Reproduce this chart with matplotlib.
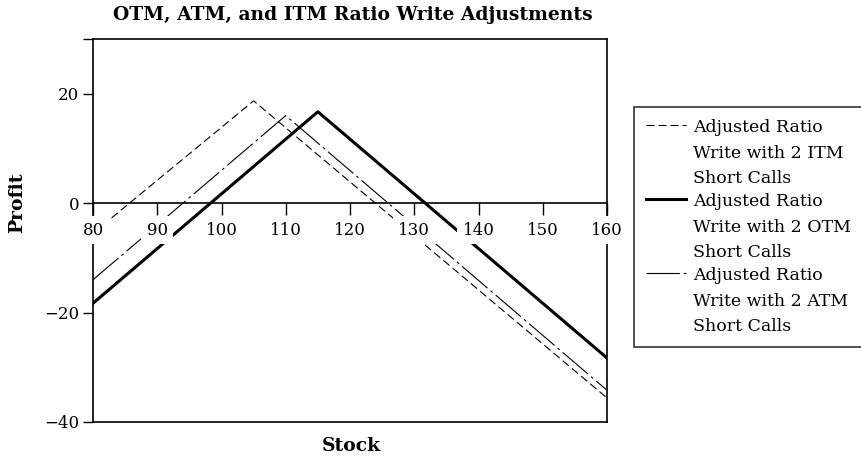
import numpy as np
import matplotlib
matplotlib.use("Agg")
import matplotlib.pyplot as plt
from matplotlib.legend_handler import HandlerLine2D

# payoff vertices (stock price, profit)
itm_stock = [80, 105, 160]
itm_profit = [-5.5, 18.7, -35.6]
otm_stock = [80, 115, 160]
otm_profit = [-18.3, 16.7, -28.3]
atm_stock = [80, 110, 160]
atm_profit = [-14.0, 16.0, -34.2]

labels = ["Adjusted Ratio\nWrite with 2 ITM\nShort Calls",
          "Adjusted Ratio\nWrite with 2 OTM\nShort Calls",
          "Adjusted Ratio\nWrite with 2 ATM\nShort Calls"]

xticks = [80, 90, 100, 110, 120, 130, 140, 150, 160]
yticks = [-40, -20, 0, 20, 30]
ytick_labels = ["\u221240", "\u221220", "0", "20", ""]

FS = 12.5
LINESP = 1.65

plt.rcParams["font.family"] = ["DejaVu Serif"]
plt.rcParams["font.size"] = FS


class TopLineHandler(HandlerLine2D):
    # put the legend sample next to the first line of a 3-line label
    def create_artists(self, legend, orig_handle, xdescent, ydescent,
                       width, height, fontsize, trans):
        arts = super().create_artists(legend, orig_handle, xdescent, ydescent,
                                      width, height, fontsize, trans)
        shift = fontsize * LINESP * 0.98
        for a in arts:
            a.set_ydata(np.asarray(a.get_ydata()) + shift)
        return arts


fig = plt.figure(figsize=(8.61, 4.58), dpi=100)
ax = fig.add_axes([93/861, 1-422/458, (607-93)/861, (422-39)/458])

ax.plot(itm_stock, itm_profit, color="black", lw=0.8, ls=(0, (7.2, 3.6)), label=labels[0])
ax.plot(otm_stock, otm_profit, color="black", lw=2.2, ls="-", label=labels[1])
ax.plot(atm_stock, atm_profit, color="black", lw=0.8, ls=(0, (30, 3.6, 2.5, 3.6)), label=labels[2])

ax.set_xlim(80, 160)
ax.set_ylim(-40, 30)
ax.set_xticks(xticks)
ax.set_yticks(yticks)
ax.set_yticklabels(ytick_labels)

# x axis sits on the zero line, frame closed by a line at the bottom
ax.spines["bottom"].set_position(("data", 0))
ax.axhline(-40, color="black", lw=1.2, clip_on=False)
for s in ax.spines.values():
    s.set_linewidth(1.2)

ax.tick_params(axis="x", direction="out", length=8.5, width=1, pad=5, labelsize=12)
ax.tick_params(axis="y", direction="out", length=7, width=1, pad=3, labelsize=12)
ax.set_axisbelow(False)
for lbl in ax.get_xticklabels():
    lbl.set_bbox(dict(facecolor="white", edgecolor="none", pad=4))

fig.text(353/861, 1-15/458, "OTM, ATM, and ITM Ratio Write Adjustments",
         ha="center", va="center", fontsize=13.5, fontweight="bold")
fig.text(351/861, 1-446/458, "Stock", ha="center", va="center",
         fontsize=13.5, fontweight="bold")
fig.text(17/861, 1-203/458, "Profit", ha="center", va="center",
         fontsize=13.5, fontweight="bold", rotation=90)

leg = fig.legend(loc="upper left", bbox_to_anchor=(634/861, 1-107/458),
                 frameon=True, fancybox=False, edgecolor="black",
                 handlelength=2.3, handletextpad=0.4, borderpad=0.7,
                 labelspacing=0.35, fontsize=FS, borderaxespad=0,
                 handler_map={matplotlib.lines.Line2D: TopLineHandler()})
leg.get_frame().set_linewidth(1.2)
for t in leg.get_texts():
    t.set_linespacing(LINESP)

fig.savefig("out.png", dpi=100)
